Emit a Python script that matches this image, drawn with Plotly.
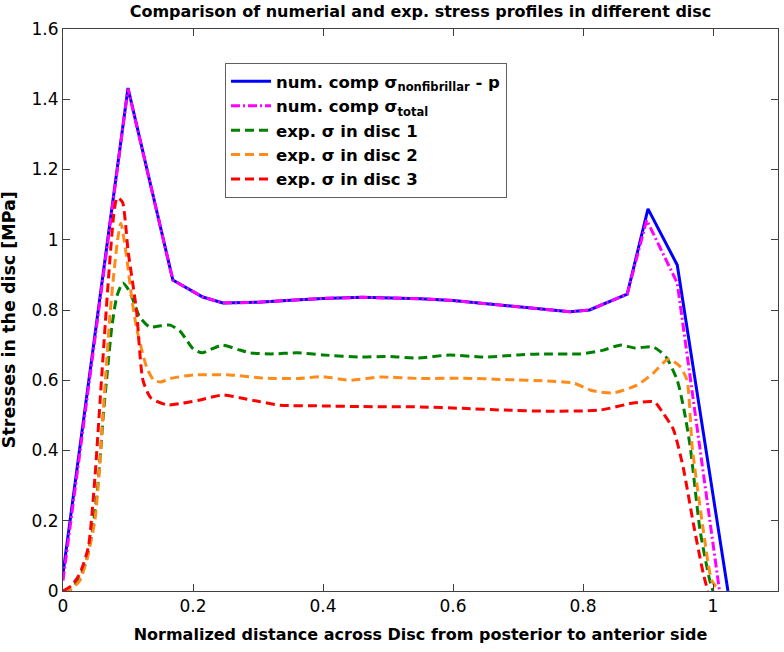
import plotly.graph_objects as go

# ---- data ----
num_nonfib_x = [0, 0.1, 0.169, 0.215, 0.246, 0.3, 0.35, 0.4, 0.46, 0.5, 0.55, 0.6, 0.65, 0.7, 0.75, 0.78, 0.81, 0.868, 0.9, 0.945, 1.023]
num_nonfib_y = [0.05, 1.432, 0.885, 0.837, 0.82, 0.822, 0.828, 0.833, 0.836, 0.835, 0.832, 0.827, 0.818, 0.81, 0.8, 0.795, 0.8, 0.845, 1.088, 0.928, 0.0]

num_total_x = [0, 0.1, 0.169, 0.215, 0.246, 0.3, 0.35, 0.4, 0.46, 0.5, 0.55, 0.6, 0.65, 0.7, 0.75, 0.78, 0.81, 0.868, 0.898, 0.945, 1.01]
num_total_y = [0.03, 1.43, 0.885, 0.837, 0.82, 0.822, 0.828, 0.833, 0.836, 0.835, 0.832, 0.827, 0.818, 0.81, 0.8, 0.795, 0.8, 0.845, 1.056, 0.877, 0.0]

disc1_x = [0, 0.012, 0.023, 0.035, 0.045, 0.052, 0.058, 0.062, 0.068, 0.075, 0.083, 0.092, 0.1, 0.106, 0.118, 0.133, 0.15, 0.165, 0.18, 0.19, 0.2, 0.214, 0.23, 0.245, 0.272, 0.288, 0.32, 0.36, 0.4, 0.46, 0.5, 0.545, 0.595, 0.646, 0.7, 0.734, 0.795, 0.83, 0.857, 0.88, 0.908, 0.92, 0.929, 0.945, 0.955, 0.965, 0.98, 0.995, 1.0]
disc1_y = [0, 0.005, 0.03, 0.08, 0.17, 0.27, 0.4, 0.5, 0.62, 0.75, 0.84, 0.877, 0.86, 0.837, 0.78, 0.752, 0.755, 0.757, 0.74, 0.715, 0.69, 0.678, 0.69, 0.7, 0.686, 0.678, 0.675, 0.678, 0.672, 0.666, 0.668, 0.663, 0.672, 0.666, 0.672, 0.675, 0.675, 0.685, 0.70, 0.692, 0.695, 0.68, 0.663, 0.60, 0.52, 0.41, 0.174, 0.03, 0.0]

disc2_x = [0, 0.012, 0.026, 0.038, 0.049, 0.055, 0.06, 0.066, 0.072, 0.078, 0.084, 0.089, 0.094, 0.1, 0.106, 0.113, 0.122, 0.13, 0.14, 0.15, 0.165, 0.2, 0.257, 0.308, 0.36, 0.4, 0.44, 0.488, 0.55, 0.615, 0.68, 0.745, 0.785, 0.815, 0.846, 0.883, 0.908, 0.931, 0.949, 0.96, 0.968, 0.985, 0.998, 1.01]
disc2_y = [0, 0.005, 0.03, 0.1, 0.2, 0.32, 0.46, 0.62, 0.78, 0.9, 1.0, 1.047, 1.0, 0.92, 0.83, 0.75, 0.68, 0.63, 0.6, 0.595, 0.605, 0.615, 0.615, 0.606, 0.605, 0.61, 0.6, 0.609, 0.605, 0.606, 0.602, 0.598, 0.592, 0.57, 0.564, 0.586, 0.62, 0.66, 0.64, 0.6, 0.41, 0.174, 0.03, 0]

disc3_x = [0, 0.013, 0.026, 0.039, 0.049, 0.057, 0.065, 0.072, 0.078, 0.083, 0.088, 0.092, 0.096, 0.1, 0.107, 0.113, 0.123, 0.135, 0.16, 0.185, 0.211, 0.246, 0.272, 0.3, 0.334, 0.4, 0.46, 0.55, 0.615, 0.68, 0.745, 0.826, 0.877, 0.91, 0.923, 0.939, 0.954, 0.97, 0.985, 0.992]
disc3_y = [0, 0.015, 0.05, 0.125, 0.32, 0.54, 0.76, 0.94, 1.07, 1.12, 1.115, 1.105, 1.05, 0.97, 0.88, 0.8, 0.6, 0.55, 0.53, 0.535, 0.544, 0.558, 0.55, 0.54, 0.529, 0.527, 0.525, 0.524, 0.52, 0.515, 0.512, 0.515, 0.535, 0.538, 0.507, 0.46, 0.353, 0.19, 0.05, 0]

names = [
    "num. comp σ<sub>nonfibrillar</sub> - p",
    "num. comp σ<sub>total</sub>",
    "exp. σ in disc 1",
    "exp. σ in disc 2",
    "exp. σ in disc 3",
]
x_ticks = [0, 0.2, 0.4, 0.6, 0.8, 1]
x_tick_text = ["0", "0.2", "0.4", "0.6", "0.8", "1"]
y_ticks = [0, 0.2, 0.4, 0.6, 0.8, 1.0, 1.2, 1.4, 1.6]
y_tick_text = ["0", "0.2", "0.4", "0.6", "0.8", "1", "1.2", "1.4", "1.6"]

FONT = "DejaVu Sans, Verdana, sans-serif"

fig = go.Figure()
fig.add_trace(go.Scatter(x=num_nonfib_x, y=num_nonfib_y, mode="lines", name=names[0],
                         line=dict(color="#0000ff", width=3)))
fig.add_trace(go.Scatter(x=num_total_x, y=num_total_y, mode="lines", name=names[1],
                         line=dict(color="#ff00ff", width=3, dash="9px,3px,2px,3px")))
fig.add_trace(go.Scatter(x=disc1_x, y=disc1_y, mode="lines", name=names[2], line_shape="spline",
                         line=dict(color="#008000", width=3, dash="9px,5px", smoothing=0.6)))
fig.add_trace(go.Scatter(x=disc2_x, y=disc2_y, mode="lines", name=names[3], line_shape="spline",
                         line=dict(color="#ff8c1a", width=3, dash="9px,5px", smoothing=0.6)))
fig.add_trace(go.Scatter(x=disc3_x, y=disc3_y, mode="lines", name=names[4], line_shape="spline",
                         line=dict(color="#ff0000", width=3, dash="9px,5px", smoothing=0.6)))

axis_common = dict(
    showgrid=False, zeroline=False, showline=True, linecolor="#404040", linewidth=1,
    mirror="ticks", ticks="inside", ticklen=7, tickcolor="#404040",
    tickfont=dict(family=FONT, size=17, color="black"),
)
fig.update_xaxes(range=[0, 1.1], tickvals=x_ticks, ticktext=x_tick_text,
                 title=dict(text="<b>Normalized distance across Disc from posterior to anterior side</b>",
                            font=dict(family=FONT, size=16, color="black"), standoff=13),
                 **axis_common)
fig.update_yaxes(range=[0, 1.6], tickvals=y_ticks, ticktext=y_tick_text, **axis_common)

fig.add_annotation(text="<b>Stresses in the disc [MPa]</b>", textangle=-90,
                   xref="paper", yref="paper", x=-0.0755, y=0.482,
                   xanchor="center", yanchor="middle", showarrow=False,
                   font=dict(family=FONT, size=17.5, color="black"))

fig.update_layout(
    width=784, height=652,
    margin=dict(l=63, r=6, t=29, b=61),
    paper_bgcolor="white", plot_bgcolor="white",
    title=dict(text="<b>Comparison of numerial and exp. stress profiles in different disc</b>",
               xref="paper", x=0.5, xanchor="center", yref="container", y=0.991, yanchor="top",
               font=dict(family=FONT, size=16, color="black")),
    legend=dict(x=0.2266, y=0.9395, xanchor="left", yanchor="top",
                bgcolor="white", bordercolor="#606060", borderwidth=1,
                font=dict(family=FONT, size=16.5, color="black", weight="bold"),
                tracegroupgap=0, itemwidth=40),
    showlegend=True,
)

fig.write_html("out.html", config={"displayModeBar": False},
               post_script="document.body.style.margin='0';document.body.style.overflow='hidden';")
